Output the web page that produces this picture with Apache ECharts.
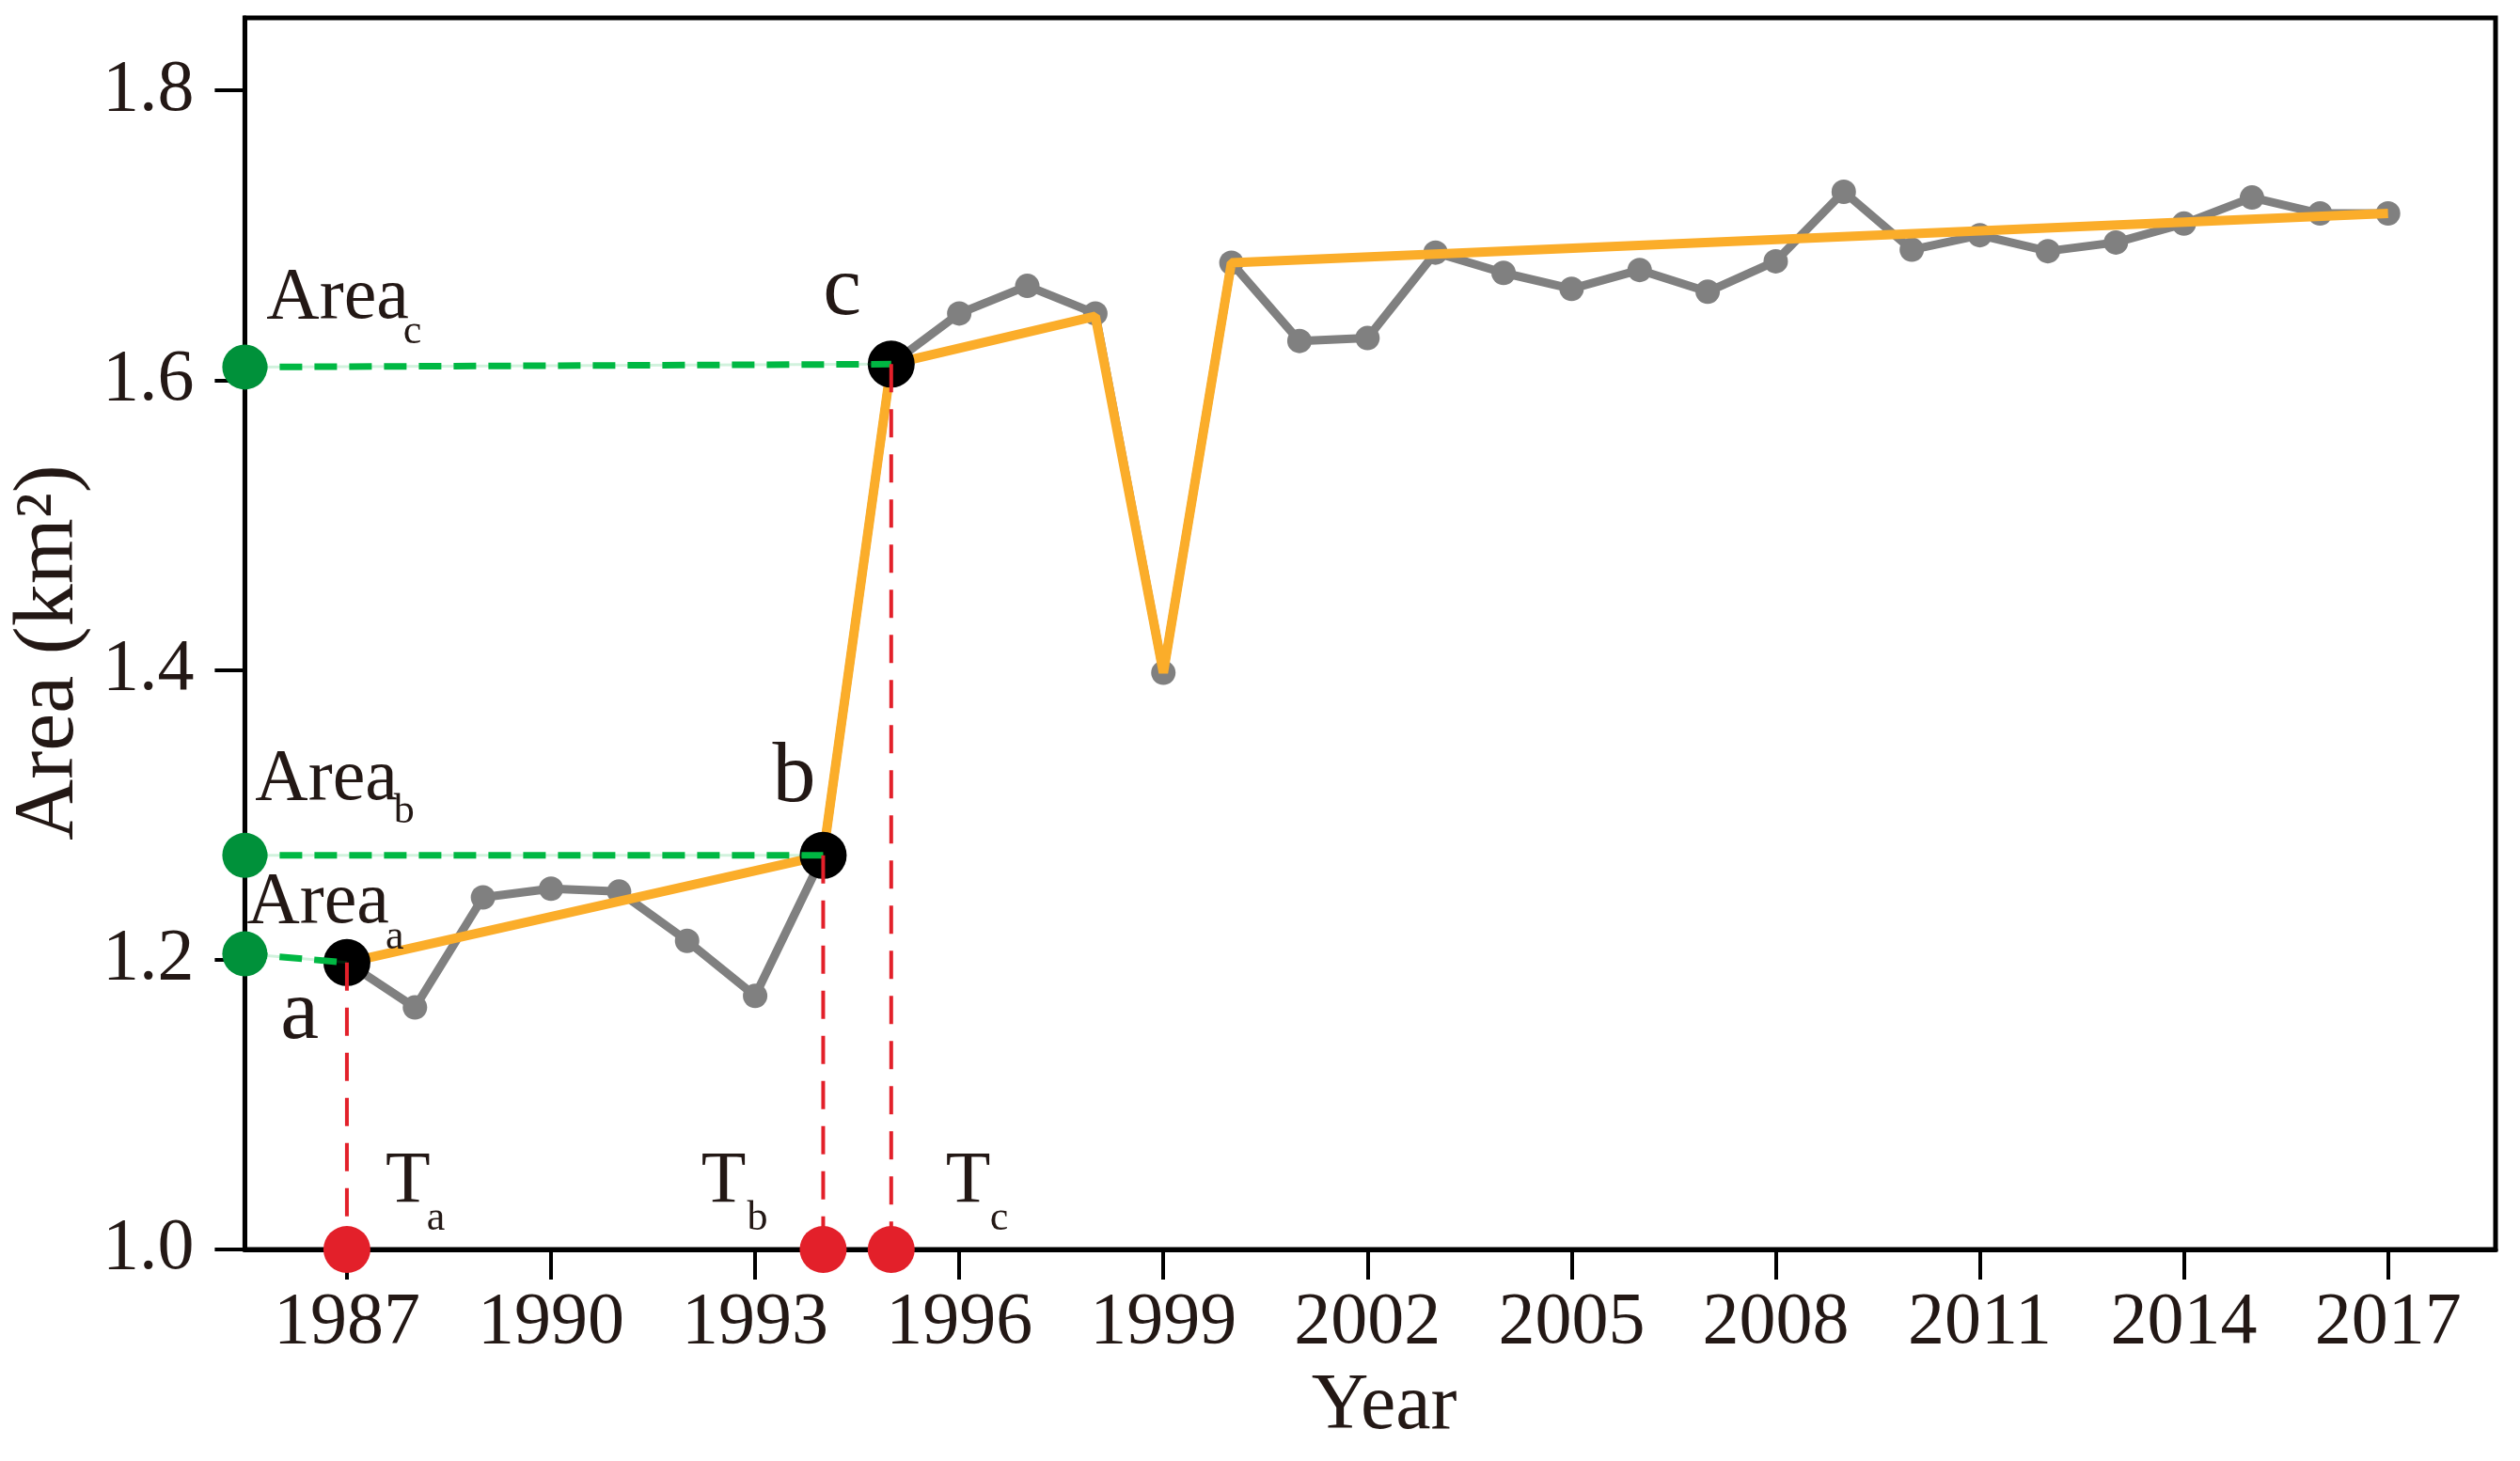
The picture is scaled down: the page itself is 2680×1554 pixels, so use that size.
<!DOCTYPE html>
<html><head><meta charset="utf-8">
<script src="https://cdn.jsdelivr.net/npm/echarts@6/dist/echarts.min.js"></script>
<style>html,body{margin:0;padding:0;background:#fff}#c{width:2680px;height:1554px}</style>
</head><body><div id="c"></div>
<script>
// ---- data ----
const years = [1987,1988,1989,1990,1991,1992,1993,1994,1995,1996,1997,1998,1999,2000,2001,2002,
  2003,2004,2005,2006,2007,2008,2009,2010,2011,2012,2013,2014,2015,2016,2017];
const area = [1.198,1.167,1.243,1.249,1.247,1.213,1.175,1.272,1.611,1.646,1.665,1.646,1.398,1.681,1.627,1.629,
  1.688,1.674,1.663,1.676,1.661,1.682,1.730,1.690,1.700,1.689,1.695,1.708,1.726,1.715,1.715];
const fitYears = [1987,1994,1995,1998,1999,2000,2017];
const fitArea = [1.198,1.272,1.611,1.644,1.398,1.681,1.715];
const breakYears = [1987,1994,1995];
const breakArea = [1.198,1.272,1.611];
const breakNames = ['a','b','c'];
const areaMarkers = [1.204,1.272,1.609];
const xTicks = [1987,1990,1993,1996,1999,2002,2005,2008,2011,2014,2017];
const yTicks = [1.0,1.2,1.4,1.6,1.8];
const xMin = 1985.5, xMax = 2018.58, yMin = 1.0, yMax = 1.85;

// annotation texts anchored in data coordinates
const annoMain = [
  {t:'Area', p:[1985.817,1.6566]}, {t:'Area', p:[1985.651,1.3244]}, {t:'Area', p:[1985.528,1.2388]},
  {t:'T', p:[1987.566,1.0461]}, {t:'T', p:[1992.207,1.0461]}, {t:'T', p:[1995.802,1.0467]}
];
const annoSub = [
  {t:'c', p:[1987.828,1.633]}, {t:'b', p:[1987.690,1.302]}, {t:'a', p:[1987.566,1.215]},
  {t:'a', p:[1988.172,1.0211]}, {t:'b', p:[1992.882,1.0211]}, {t:'c', p:[1996.449,1.0211]}
];
const annoPoint = [
  {t:'a', p:[1986.023,1.1616]}, {t:'b', p:[1993.254,1.3251]}, {t:'c', p:[1993.997,1.6612]}
];

// ---- styles ----
const FONT = "'Liberation Serif','Times New Roman',serif";
const TXT = '#231815';
const GRAY = '#808080', ORANGE = '#FBAD2A', GREEN_DOT = '#00913A', GREEN_LINE = '#00B843',
      RED = '#E3202A';

const series = [];
series.push({
  type:'line', data: years.map((y,i)=>[y,area[i]]), symbol:'circle', symbolSize:26,
  lineStyle:{color:GRAY,width:9}, itemStyle:{color:GRAY, opacity:1}, z:2, silent:true
});
series.push({
  type:'line', data: fitYears.map((y,i)=>[y,fitArea[i]]), symbol:'none',
  lineStyle:{color:ORANGE,width:10}, z:3, silent:true
});
series.push({
  type:'scatter', data: breakYears.map((y,i)=>[y,breakArea[i]]), symbol:'circle', symbolSize:50,
  itemStyle:{color:'#000', opacity:1}, z:4, silent:true
});
breakYears.forEach((y,i)=>{
  series.push({type:'line', data:[[xMin,areaMarkers[i]],[y,breakArea[i]]], symbol:'none',
    lineStyle:{color:'rgba(0,184,67,0.18)',width:3}, z:5, silent:true, clip:false});
  series.push({type:'line', data:[[xMin,areaMarkers[i]],[y,breakArea[i]]], symbol:'none',
    lineStyle:{color:GREEN_LINE,width:7,type:[24,13]}, z:5, silent:true, clip:false});
  series.push({type:'line', data:[[y,breakArea[i]],[y,yMin]], symbol:'none',
    lineStyle:{color:RED,width:4,type:[30,18]}, z:5, silent:true, clip:false});
});
series.push({
  type:'scatter', data: areaMarkers.map(v=>[xMin,v]), symbol:'circle', symbolSize:48,
  itemStyle:{color:GREEN_DOT, opacity:1}, z:6, clip:false, silent:true
});
series.push({
  type:'scatter', data: breakYears.map(y=>[y,yMin]), symbol:'circle', symbolSize:50,
  itemStyle:{color:RED, opacity:1}, z:6, clip:false, silent:true
});
function annoSeries(list, size){
  return {
    type:'scatter', symbolSize:1, itemStyle:{color:'rgba(0,0,0,0)', opacity:1}, z:7, clip:false, silent:true,
    data: list.map(a=>({value:a.p, label:{formatter:a.t}})),
    label:{show:true, position:'inside', align:'left', verticalAlign:'middle',
      fontFamily:FONT, fontSize:size, color:TXT, opacity:1}
  };
}
series.push(annoSeries(annoMain, 78));
series.push(annoSeries(annoSub, 44));
series.push(annoSeries(annoPoint, 92));

const option = {
  animation:false,
  backgroundColor:'#fff',
  grid:{left:252, right:26, top:19, bottom:225, show:true, borderColor:'#000', borderWidth:5, containLabel:false},
  xAxis:{
    type:'value', min:xMin, max:xMax,
    axisLine:{show:true, lineStyle:{color:'#000', width:5}},
    axisTick:{show:true, customValues:xTicks, length:32, inside:false, lineStyle:{color:'#000', width:4}},
    axisLabel:{show:true, customValues:xTicks, fontFamily:FONT, fontSize:78, color:TXT, margin:40,
      formatter:v=>String(Math.round(v))},
    splitLine:{show:false}, minorTick:{show:false},
    name:'Year', nameLocation:'middle', nameGap:126,
    nameTextStyle:{fontFamily:FONT, fontSize:84, color:TXT, padding:[0,0,0,30]}
  },
  yAxis:{
    type:'value', min:yMin, max:yMax,
    axisLine:{show:true, lineStyle:{color:'#000', width:5}},
    axisTick:{show:true, customValues:yTicks, length:32, inside:false, lineStyle:{color:'#000', width:4}},
    axisLabel:{show:true, customValues:yTicks, fontFamily:FONT, fontSize:78, color:TXT, margin:54,
      formatter:v=>Number(v).toFixed(1)},
    splitLine:{show:false},
    name:'Area (km²)', nameLocation:'middle', nameGap:145, nameRotate:90,
    nameTextStyle:{fontFamily:FONT, fontSize:90, color:TXT, padding:[0,40,0,0]}
  },
  series: series
};
const chart = echarts.init(document.getElementById('c'), null, {renderer:'canvas', width:2680, height:1554});
chart.setOption(option);
</script>
</body></html>
